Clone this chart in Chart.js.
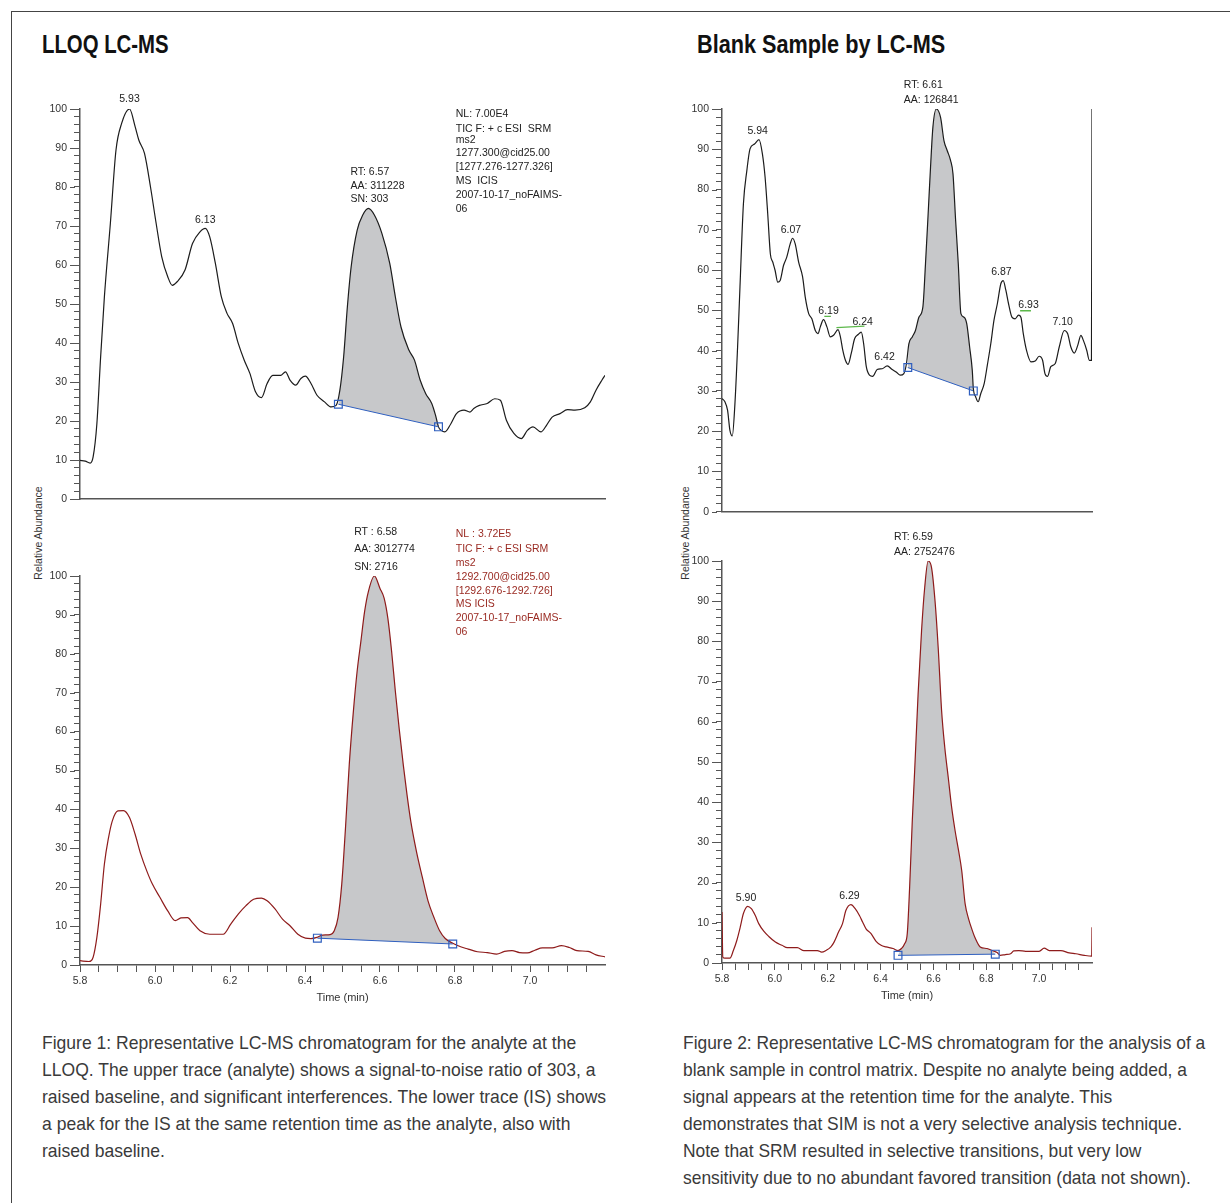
<!DOCTYPE html>
<html>
<head>
<meta charset="utf-8">
<script src="https://cdn.jsdelivr.net/npm/chart.js@4.4.1/dist/chart.umd.min.js"></script>
<style>
  body { margin: 0; width: 1230px; height: 1203px; overflow: hidden; position: relative; background: #fff;
         font-family: "Liberation Sans", Arial, sans-serif; }
  #frame { position: absolute; left: 11px; top: 11px; width: 1300px; height: 1300px; border: 1.5px solid #444; }
  .title { position: absolute; top: 29px; font-size: 25px; line-height: 30px; font-weight: bold; color: #111;
           white-space: nowrap; transform-origin: 0 0; }
  .ylab { position: absolute; width: 130px; height: 12px; line-height: 12px; font-size: 10.5px; color: #333;
          text-align: center; transform: rotate(-90deg); white-space: nowrap; }
  .cap { position: absolute; top: 1029px; font-size: 19px; line-height: 27px; color: #3a3a3a;
         white-space: nowrap; transform-origin: 0 0; }
  canvas { position: absolute; }
</style>
</head>
<body>
<div id="frame"></div>
<div class="title" style="left:42px" data-fit="127">LLOQ LC-MS</div>
<div class="title" style="left:697px" data-fit="248">Blank Sample by LC-MS</div>
<div class="ylab" style="left:-27px; top:527px">Relative Abundance</div>
<div class="ylab" style="left:620px; top:527px">Relative Abundance</div>

<canvas id="lloqTop"></canvas>
<canvas id="lloqBottom"></canvas>
<canvas id="blankTop"></canvas>
<canvas id="blankBottom"></canvas>

<div class="cap" style="left:42px" data-fit="564">Figure 1: Representative LC-MS chromatogram for the analyte at the<br>LLOQ. The upper trace (analyte) shows a signal-to-noise ratio of 303, a<br>raised baseline, and significant interferences. The lower trace (IS) shows<br>a peak for the IS at the same retention time as the analyte, also with<br>raised baseline.</div>
<div class="cap" style="left:683px" data-fit="522">Figure 2: Representative LC-MS chromatogram for the analysis of a<br>blank sample in control matrix. Despite no analyte being added, a<br>signal appears at the retention time for the analyte. This<br>demonstrates that SIM is not a very selective analysis technique.<br>Note that SRM resulted in selective transitions, but very low<br>sensitivity due to no abundant favored transition (data not shown).</div>

<script>
// ---------------- data ----------------
const xMajorTicks = [5.8, 6.0, 6.2, 6.4, 6.6, 6.8, 7.0];
const yMajorTicks = [0, 10, 20, 30, 40, 50, 60, 70, 80, 90, 100];

// LLOQ, analyte trace (upper left)
const lloqTime = [
  5.800, 5.814, 5.827, 5.835, 5.845, 5.855, 5.865, 5.881, 5.896, 5.911,
  5.932, 5.947, 5.957, 5.972, 5.988, 6.003, 6.018, 6.034, 6.046, 6.059,
  6.080, 6.100, 6.120, 6.134, 6.146, 6.161, 6.177, 6.192, 6.207, 6.222,
  6.238, 6.253, 6.268, 6.284, 6.299, 6.314, 6.335, 6.348, 6.360, 6.375,
  6.389, 6.401, 6.416, 6.432, 6.452, 6.470, 6.483, 6.493, 6.503, 6.513,
  6.523, 6.539, 6.554, 6.569, 6.585, 6.605, 6.626, 6.641, 6.656, 6.677,
  6.692, 6.707, 6.722, 6.738, 6.748, 6.756, 6.763, 6.773, 6.789, 6.804,
  6.824, 6.840, 6.850, 6.865, 6.886, 6.906, 6.921, 6.937, 6.957, 6.977,
  6.993, 7.008, 7.029, 7.044, 7.059, 7.080, 7.100, 7.120, 7.146, 7.161,
  7.176, 7.192, 7.200
];
const lloqAbund = [
  9.9, 9.7, 9.2, 10.8, 19.3, 36.4, 51.8, 70.7, 89.5, 96.3,
  100, 95.5, 92, 88.6, 80, 70.7, 62.1, 57, 54.8, 55.7,
  58.7, 65.5, 68.5, 69.4, 67.2, 60.4, 51.8, 47.6, 45, 39.9,
  35.6, 32.2, 27.5, 26, 29.6, 31.7, 31.7, 32.6, 30.5, 29.2,
  30.9, 31.5, 29.6, 26.6, 24.9, 23.6, 24.0, 27.9, 36.4, 49.3,
  59.5, 68.9, 72.8, 74.5, 72.8, 68.1, 60.4, 51.8, 44.1, 38.2,
  35.6, 30.5, 27, 24.5, 21.5, 18.5, 17.6, 17.2, 19.3, 21.9,
  22.8, 22.3, 23.2, 24, 24.5, 25.7, 25.3, 20.2, 16.8, 15.5,
  17.6, 18.5, 17.2, 18.9, 21, 21.9, 22.9, 22.8, 23.4, 24.9,
  27.9, 30.5, 31.7
];
const lloqBaseline = [[6.489, 24.3], [6.756, 18.5]];

// LLOQ, internal standard trace (lower left)
const isTime = [
  5.800, 5.824, 5.835, 5.845, 5.855, 5.865, 5.876, 5.886, 5.901, 5.916,
  5.932, 5.947, 5.962, 5.978, 5.993, 6.013, 6.034, 6.054, 6.069, 6.087,
  6.100, 6.120, 6.146, 6.182, 6.202, 6.222, 6.242, 6.263, 6.284, 6.299,
  6.320, 6.340, 6.360, 6.381, 6.401, 6.416, 6.432, 6.447, 6.467, 6.478,
  6.488, 6.498, 6.508, 6.518, 6.529, 6.539, 6.549, 6.559, 6.569, 6.585,
  6.600, 6.611, 6.621, 6.631, 6.641, 6.651, 6.662, 6.672, 6.682, 6.697,
  6.713, 6.728, 6.744, 6.759, 6.774, 6.794, 6.815, 6.835, 6.860, 6.886,
  6.911, 6.932, 6.952, 6.972, 6.993, 7.013, 7.033, 7.059, 7.084, 7.105,
  7.125, 7.155, 7.176, 7.200
];
const isAbund = [
  1.1, 0.9, 2, 7.1, 15.6, 25.9, 32.7, 37, 39.6, 39.7,
  37.9, 33.6, 28.5, 24.2, 20.8, 17.4, 13.9, 11.4, 12.1, 12.2,
  10.9, 8.8, 7.9, 7.9, 10.5, 13.1, 15.2, 16.9, 17.2, 16.5,
  14.4, 11.8, 10.1, 7.9, 6.9, 6.8, 7.1, 7.7, 7.8, 8.8,
  12.2, 20.8, 35.3, 51.5, 65.2, 75.5, 83.2, 90.9, 96, 100,
  96.8, 94.3, 89.1, 80.6, 70.3, 60.9, 51.5, 43.8, 37, 29.3,
  22.5, 16.5, 12.2, 8.8, 6.8, 5.6, 4.7, 4.1, 3.4, 3.2,
  2.8, 3.5, 3.7, 3.2, 3.1, 3.8, 4.4, 4.4, 5, 4.5,
  3.7, 3.5, 2.6, 2.1
];
const isBaseline = [[6.433, 6.9], [6.794, 5.4]];

// Blank sample, analyte trace (upper right)
const blankTime = [
  5.800, 5.811, 5.821, 5.830, 5.839, 5.849, 5.859, 5.868, 5.881, 5.894,
  5.906, 5.923, 5.940, 5.953, 5.963, 5.973, 5.983, 5.992, 6.001, 6.011,
  6.020, 6.033, 6.045, 6.058, 6.067, 6.077, 6.090, 6.105, 6.115, 6.128,
  6.140, 6.153, 6.163, 6.172, 6.184, 6.197, 6.210, 6.222, 6.239, 6.248,
  6.257, 6.267, 6.277, 6.289, 6.302, 6.315, 6.327, 6.336, 6.346, 6.358,
  6.370, 6.387, 6.406, 6.425, 6.444, 6.459, 6.475, 6.488, 6.498, 6.507,
  6.520, 6.532, 6.545, 6.560, 6.570, 6.580, 6.589, 6.598, 6.611, 6.627,
  6.640, 6.652, 6.665, 6.674, 6.684, 6.694, 6.704, 6.716, 6.726, 6.737,
  6.747, 6.751, 6.760, 6.769, 6.779, 6.792, 6.804, 6.817, 6.829, 6.842,
  6.855, 6.864, 6.874, 6.884, 6.897, 6.909, 6.922, 6.931, 6.940, 6.952,
  6.969, 6.985, 7.000, 7.013, 7.022, 7.032, 7.044, 7.061, 7.076, 7.095,
  7.108, 7.120, 7.133, 7.146, 7.158, 7.167, 7.180, 7.190, 7.198, 7.200
];
const blankAbund = [
  28.1, 27.3, 25.2, 20.2, 18.8, 26.9, 40.9, 55.8, 76.4, 84.7,
  90.1, 91.3, 92.4, 88.8, 83.1, 74, 64, 62, 59.9, 57,
  57.4, 61.2, 63.2, 66.5, 67.9, 66.5, 62, 58.3, 53.3, 49.2,
  47.9, 45, 44.2, 45.9, 47.7, 45.9, 43.4, 43.8, 45.2, 43.4,
  40.1, 37.6, 36.6, 39.3, 43, 44, 44.6, 41.7, 36, 33.9,
  33.6, 35.3, 35.5, 36.2, 35.3, 34.7, 33.9, 34.3, 36.8, 41.7,
  43.4, 45, 48.3, 50.8, 61.6, 74, 85.5, 95.5, 100, 97.9,
  92.1, 89.7, 87.2, 83.9, 72.3, 61.6, 49.2, 48.3, 46.7, 40.9,
  35.1, 30.6, 28.5, 27.3, 29.3, 31.8, 36.4, 41.7, 47.5, 51.7,
  56.6, 57.4, 55, 51.7, 48.3, 47.9, 48.8, 48.3, 44.2, 40.1,
  37.2, 37.4, 38.6, 37.6, 34.3, 33.6, 36, 36.8, 40.9, 45,
  44.2, 40.9, 39.4, 41.3, 43.8, 42.6, 40.1, 37.6, 37.6, 100
];
const blankBaseline = [[6.503, 35.8], [6.751, 30.0]];
// short green peak-threshold marks
const blankMarks = [
  [[6.187, 48.5], [6.212, 48.5]],
  [[6.233, 45.7], [6.339, 46.1]],
  [[6.928, 49.9], [6.969, 49.9]]
];

// Blank sample, internal standard trace (lower right)
const blankIsTime = [
  5.800, 5.803, 5.811, 5.830, 5.843, 5.856, 5.869, 5.881, 5.897, 5.911,
  5.926, 5.939, 5.958, 5.977, 6.002, 6.027, 6.047, 6.085, 6.110, 6.161,
  6.177, 6.193, 6.212, 6.224, 6.241, 6.256, 6.269, 6.288, 6.304, 6.320,
  6.332, 6.345, 6.364, 6.383, 6.402, 6.421, 6.447, 6.466, 6.479, 6.491,
  6.501, 6.510, 6.520, 6.529, 6.542, 6.555, 6.567, 6.580, 6.593, 6.606,
  6.618, 6.631, 6.643, 6.656, 6.669, 6.682, 6.695, 6.707, 6.720, 6.733,
  6.745, 6.758, 6.777, 6.803, 6.822, 6.841, 6.853, 6.872, 6.892, 6.904,
  6.923, 6.949, 7.000, 7.019, 7.038, 7.082, 7.114, 7.139, 7.171, 7.199,
  7.200
];
const blankIsAbund = [
  12.7, 1.5, 1.2, 1.2, 3.1, 5.6, 8.9, 12.3, 14.1, 13.5,
  11.8, 9.8, 7.9, 6.6, 5.2, 4.4, 3.8, 3.8, 3.1, 3.1,
  2.7, 3.1, 4, 5.2, 7.7, 9.8, 13.1, 14.5, 13.5, 11.8,
  10.2, 8.5, 7.3, 5.4, 4.4, 4, 3.6, 3.1, 3.6, 4.8,
  7.3, 18.9, 35.4, 47.8, 66.9, 82.6, 93.4, 100, 98.3, 90.1,
  78.5, 62.7, 53.6, 46.2, 38.7, 32.9, 28, 23, 14.7, 11,
  8.5, 6.2, 4, 3.6, 3.1, 2.6, 1.9, 2.1, 2.3, 3,
  3.1, 2.9, 2.9, 3.7, 3.1, 3.1, 2.5, 2.3, 1.9, 1.7,
  8.9
];
const blankIsBaseline = [[6.466, 1.9], [6.834, 2.2]];

// text blocks
const lloqInfo = ['NL: 7.00E4', 'TIC F: + c ESI  SRM', 'ms2', '1277.300@cid25.00', '[1277.276-1277.326]',
                  'MS  ICIS', '2007-10-17_noFAIMS-', '06'];
const isInfo = ['NL : 3.72E5', 'TIC F: + c ESI SRM', 'ms2', '1292.700@cid25.00', '[1292.676-1292.726]',
                'MS ICIS', '2007-10-17_noFAIMS-', '06'];

// ---------------- drawing ----------------
const FONT = '"Liberation Sans", Arial, sans-serif';
const BLACK = '#1c1c1c';
const RED = '#8e1b1b';
const BLUE = '#2f5fbf';
const GREY_FILL = '#c7c8ca';
const AXIS = '#555';

// squeeze titles and captions to the condensed widths of the original
document.querySelectorAll('[data-fit]').forEach(el => {
  el.style.transform = 'scaleX(' + (+el.dataset.fit / el.offsetWidth) + ')';
});

Chart.defaults.font.family = FONT;
Chart.defaults.font.size = 10.5;
Chart.defaults.color = '#333';

const toPts = (t, v) => t.map((x, i) => ({x: x, y: v[i]}));

// text annotations (data units, through the chart scales) + longer ticks at labelled values
const notesPlugin = {
  id: 'notes',
  afterDraw(chart, args, opts) {
    const {ctx, chartArea} = chart;
    const xs = chart.scales.x, ys = chart.scales.y;
    ctx.save();

    ctx.strokeStyle = AXIS;
    ctx.lineWidth = 1;
    ctx.beginPath();
    yMajorTicks.forEach(v => {
      const py = Math.round(ys.getPixelForValue(v)) + 0.5;
      ctx.moveTo(chartArea.left - 10, py);
      ctx.lineTo(chartArea.left - 5, py);
    });
    ctx.stroke();

    ctx.font = '10.5px ' + FONT;
    ctx.textBaseline = 'middle';
    ctx.textAlign = 'center';
    ctx.fillStyle = '#222';
    (opts.peaks || []).forEach(p => {
      ctx.fillText(p.text, xs.getPixelForValue(p.t), ys.getPixelForValue(p.v));
    });
    ctx.textAlign = 'left';
    (opts.blocks || []).forEach(b => {
      ctx.fillStyle = b.color || '#222';
      b.lines.forEach((ln, i) => ctx.fillText(ln, xs.getPixelForValue(b.t), ys.getPixelForValue(b.v[i])));
    });
    if (opts.xTitle) {
      ctx.textAlign = 'center';
      ctx.fillStyle = '#333';
      ctx.font = '11px ' + FONT;
      ctx.fillText(opts.xTitle, (chartArea.left + chartArea.right) / 2, chartArea.bottom + 33);
    }
    ctx.restore();
  }
};

function minorXTicks() {
  const vals = [];
  for (let i = 0; i <= 27; i++) vals.push(+(5.8 + i * 0.05).toFixed(2));
  return vals;
}

function buildChart(id, box, area, cfg) {
  const cv = document.getElementById(id);
  cv.width = box.w; cv.height = box.h;
  cv.style.left = box.l + 'px'; cv.style.top = box.t + 'px';
  const yW = 40, xH = cfg.timeAxis ? 40 : 10;

  const trace = toPts(cfg.time, cfg.abund);
  const base = cfg.baseline.map(p => ({x: p[0], y: p[1]}));
  const peakFill = [base[0]].concat(trace.filter(p => p.x > base[0].x && p.x < base[1].x), [base[1]]);

  const datasets = [
    {data: peakFill, borderWidth: 0, pointRadius: 0, backgroundColor: GREY_FILL, fill: 2, order: 3,
     cubicInterpolationMode: 'monotone'},
    {data: trace, borderColor: cfg.color, borderWidth: 1.2, pointRadius: 0, fill: false, order: 2,
     cubicInterpolationMode: 'monotone'},
    {data: base, borderColor: BLUE, borderWidth: 1, fill: false, order: 1,
     pointStyle: 'rect', pointRadius: 5.5, pointBorderColor: BLUE, pointBorderWidth: 1.2,
     pointBackgroundColor: 'rgba(0,0,0,0)'}
  ];
  (cfg.marks || []).forEach(m => datasets.push({
    data: m.map(p => ({x: p[0], y: p[1]})), borderColor: '#5cb84a', borderWidth: 1.3,
    pointRadius: 0, fill: false, order: 1
  }));

  return new Chart(cv, {
    type: 'line',
    data: {datasets: datasets},
    options: {
      responsive: false,
      animation: false,
      devicePixelRatio: 1,
      events: [],
      layout: {padding: {left: area.l - box.l - yW, top: area.t - box.t,
                         right: box.l + box.w - area.r, bottom: box.t + box.h - area.b - xH}},
      plugins: {legend: {display: false}, tooltip: {enabled: false}, notes: cfg.notes},
      scales: {
        x: {
          type: 'linear', min: 5.8, max: 7.2,
          afterFit: s => { s.height = xH; },
          afterBuildTicks: s => { s.ticks = minorXTicks().map(v => ({value: v})); },
          border: {display: true, color: AXIS, width: 1.5},
          grid: {display: cfg.timeAxis, drawOnChartArea: false, drawTicks: true, tickLength: 7, color: AXIS},
          ticks: {
            display: cfg.timeAxis, autoSkip: false, maxRotation: 0, padding: 3, color: '#333',
            callback: v => xMajorTicks.some(m => Math.abs(m - v) < 1e-6) ? v.toFixed(1) : ''
          }
        },
        y: {
          min: 0, max: 100,
          afterFit: s => { s.width = yW; },
          afterBuildTicks: s => {
            const t = [];
            for (let v = 0; v <= 100; v += 2) t.push({value: v});
            s.ticks = t;
          },
          border: {display: true, color: AXIS, width: 1.5},
          grid: {drawOnChartArea: false, drawTicks: true, tickLength: 6, color: AXIS},
          ticks: {
            autoSkip: false, padding: 7, color: '#333',
            callback: v => yMajorTicks.includes(v) ? String(v) : ''
          }
        }
      }
    },
    plugins: [notesPlugin]
  });
}

buildChart('lloqTop', {l: 20, t: 60, w: 620, h: 460}, {l: 80, t: 109, r: 605, b: 499}, {
  time: lloqTime, abund: lloqAbund, baseline: lloqBaseline, color: BLACK, timeAxis: false,
  notes: {
    peaks: [{text: '5.93', t: 5.932, v: 102.5}, {text: '6.13', t: 6.134, v: 71.5}],
    blocks: [
      {lines: ['RT: 6.57', 'AA: 311228', 'SN: 303'], t: 6.521, v: [83.9, 80.3, 76.8]},
      {lines: lloqInfo, t: 6.802, v: [98.7, 94.9, 91.9, 88.6, 85.0, 81.5, 77.9, 74.3]}
    ]
  }
});

buildChart('lloqBottom', {l: 20, t: 515, w: 620, h: 500}, {l: 80, t: 576, r: 605, b: 965}, {
  time: isTime, abund: isAbund, baseline: isBaseline, color: RED, timeAxis: true,
  notes: {
    blocks: [
      {lines: ['RT : 6.58', 'AA: 3012774', 'SN: 2716'], t: 6.531, v: [111.2, 106.8, 102.2]},
      {lines: isInfo, color: '#9a2a22', t: 6.802, v: [110.7, 106.8, 103.2, 99.7, 96.2, 92.7, 89.1, 85.7]}
    ],
    xTitle: 'Time (min)'
  }
});

buildChart('blankTop', {l: 665, t: 65, w: 450, h: 460}, {l: 722, t: 109, r: 1092, b: 512}, {
  time: blankTime, abund: blankAbund, baseline: blankBaseline, marks: blankMarks, color: BLACK, timeAxis: false,
  notes: {
    peaks: [
      {text: '5.94', t: 5.935, v: 94.4}, {text: '6.07', t: 6.061, v: 70.0},
      {text: '6.19', t: 6.203, v: 49.8}, {text: '6.24', t: 6.332, v: 47.1},
      {text: '6.42', t: 6.415, v: 38.3}, {text: '6.87', t: 6.857, v: 59.5},
      {text: '6.93', t: 6.960, v: 51.2}, {text: '7.10', t: 7.089, v: 47.2}
    ],
    blocks: [{lines: ['RT: 6.61', 'AA: 126841'], t: 6.488, v: [105.9, 102.1]}]
  }
});

buildChart('blankBottom', {l: 665, t: 520, w: 450, h: 495}, {l: 722, t: 561, r: 1092, b: 963}, {
  time: blankIsTime, abund: blankIsAbund, baseline: blankIsBaseline, color: RED, timeAxis: true,
  notes: {
    peaks: [{text: '5.90', t: 5.891, v: 16.2}, {text: '6.29', t: 6.282, v: 16.6}],
    blocks: [{lines: ['RT: 6.59', 'AA: 2752476'], t: 6.451, v: [106.0, 102.2]}],
    xTitle: 'Time (min)'
  }
});
</script>
</body>
</html>
